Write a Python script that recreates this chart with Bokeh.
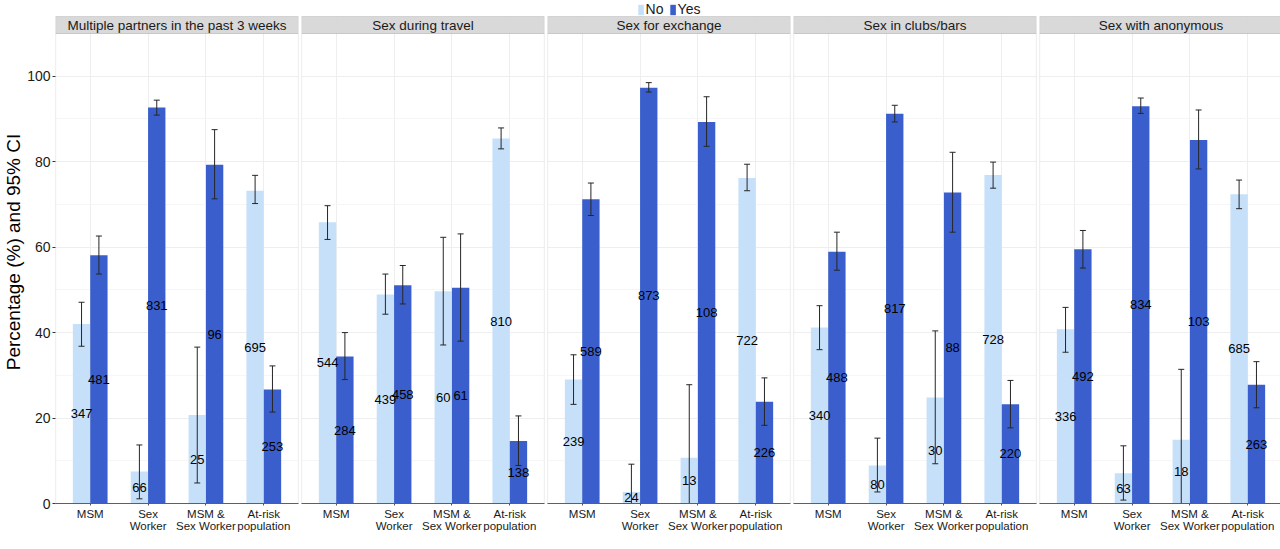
from bokeh.plotting import figure
from bokeh.models import (ColumnDataSource, FactorRange, Range1d, FixedTicker,
                          BoxAnnotation, Label, Legend, LegendItem)
from bokeh.layouts import row
from bokeh.transform import dodge
from bokeh.core.properties import value
from bokeh.embed import file_html
from bokeh.resources import INLINE

# ---------------- data ----------------
groups = ["MSM", "Sex\nWorker", "MSM &\nSex Worker", "At-risk\npopulation"]
panels = ["Multiple partners in the past 3 weeks", "Sex during travel",
          "Sex for exchange", "Sex in clubs/bars", "Sex with anonymous"]

no_pct = [
    [42.0, 7.5, 20.7, 73.2],
    [65.8, 48.9, 49.7, 85.4],
    [29.0, 2.7, 10.7, 76.2],
    [41.2, 8.9, 24.8, 76.9],
    [40.8, 7.1, 14.9, 72.4],
]
no_lo = [
    [36.8, 1.1, 4.8, 70.2],
    [61.8, 44.3, 37.1, 83.0],
    [23.2, 0.0, 0.0, 73.2],
    [36.0, 2.7, 9.3, 73.8],
    [35.4, 0.8, 0.0, 69.0],
]
no_hi = [
    [47.1, 13.7, 36.6, 76.8],
    [69.7, 53.7, 62.3, 87.9],
    [34.8, 9.2, 27.8, 79.4],
    [46.3, 15.3, 40.4, 79.9],
    [45.9, 13.5, 31.4, 75.7],
]
no_n = [
    ["347", "66", "25", "695"],
    ["544", "439", "60", "810"],
    ["239", "24", "13", "722"],
    ["340", "80", "30", "728"],
    ["336", "63", "18", "685"],
]
yes_pct = [
    [58.1, 92.7, 79.3, 26.7],
    [34.4, 51.1, 50.5, 14.6],
    [71.2, 97.3, 89.3, 23.8],
    [58.9, 91.2, 72.8, 23.2],
    [59.5, 93.0, 85.1, 27.8],
]
yes_lo = [
    [53.7, 90.9, 71.3, 21.4],
    [29.0, 46.7, 38.0, 8.9],
    [67.4, 96.3, 83.6, 18.3],
    [54.6, 89.3, 63.5, 17.7],
    [55.1, 91.3, 78.3, 22.4],
]
yes_hi = [
    [62.6, 94.4, 87.5, 32.2],
    [40.0, 55.7, 63.1, 20.5],
    [75.0, 98.5, 95.2, 29.4],
    [63.5, 93.2, 82.2, 28.8],
    [63.9, 94.9, 92.1, 33.2],
]
yes_n = [
    ["481", "831", "96", "253"],
    ["284", "458", "61", "138"],
    ["589", "873", "108", "226"],
    ["488", "817", "88", "220"],
    ["492", "834", "103", "263"],
]
y_ticks = [0, 20, 40, 60, 80, 100]
y_minor = [10, 30, 50, 70, 90]
legend_labels = ["No", "Yes"]

# ---------------- style ----------------
NO_C = "#C6E0FA"
YES_C = "#3A5FCD"
ERR_C = "#262626"
BORDER_C = "#999999"
STRIP_C = "#D9D9D9"
GRID_C = "#EEEEEE"
MINOR_C = "#F6F6F6"
FONT = "Liberation Sans"

FRAME_W = 243
FRAME_H = 503
DATA_TOP = 110.0
PX_PER_UNIT = (FRAME_H - 33) / DATA_TOP
STRIP_TOP = DATA_TOP + 17 / PX_PER_UNIT
Y_END = FRAME_H / PX_PER_UNIT
OFF = 0.15
BAR_W = 0.3

figs = []
for i, title in enumerate(panels):
    src = ColumnDataSource(dict(
        group=groups,
        no=no_pct[i], no_lo=no_lo[i], no_hi=no_hi[i], no_n=no_n[i],
        no_mid=[v / 2 for v in no_pct[i]],
        yes=yes_pct[i], yes_lo=yes_lo[i], yes_hi=yes_hi[i], yes_n=yes_n[i],
        yes_mid=[v / 2 for v in yes_pct[i]],
    ))
    xr = FactorRange(*groups, range_padding=0.05)
    p = figure(x_range=xr, y_range=Range1d(0, Y_END),
               frame_width=FRAME_W, frame_height=FRAME_H,
               output_backend="svg", toolbar_location=None,
               min_border=0)
    p.min_border_right = 3 if i < len(panels) - 1 else 0
    p.outline_line_color = None
    p.background_fill_color = "white"

    # grids
    p.ygrid.ticker = FixedTicker(ticks=y_ticks, minor_ticks=y_minor)
    p.ygrid.grid_line_color = GRID_C
    p.ygrid.minor_grid_line_color = MINOR_C
    p.ygrid.bounds = (0, DATA_TOP)
    p.xgrid.grid_line_color = GRID_C

    # bars
    r_no = p.vbar(x=dodge("group", -OFF, range=xr), top="no", bottom=0,
                  width=BAR_W, source=src, fill_color=NO_C, line_color=None)
    r_yes = p.vbar(x=dodge("group", OFF, range=xr), top="yes", bottom=0,
                   width=BAR_W, source=src, fill_color=YES_C, line_color=None)

    # count labels
    for mid, ncol, off in (("no_mid", "no_n", -OFF), ("yes_mid", "yes_n", OFF)):
        p.text(x=dodge("group", off, range=xr), y=mid, text=ncol, source=src,
               text_align="center", text_baseline="middle",
               text_font=value(FONT), text_font_size="13px", text_color="black")

    # error bars
    for lo, hi, off in (("no_lo", "no_hi", -OFF), ("yes_lo", "yes_hi", OFF)):
        p.segment(x0=dodge("group", off, range=xr), y0=lo,
                  x1=dodge("group", off, range=xr), y1=hi,
                  source=src, line_color=ERR_C, line_width=1)
        for end in (lo, hi):
            p.scatter(x=dodge("group", off, range=xr), y=end, source=src,
                      marker="dash", size=6, line_color=ERR_C, line_width=1)

    # panel border, strip, cover above strip
    p.add_layout(BoxAnnotation(bottom=0, top=DATA_TOP, fill_alpha=0,
                               line_color=BORDER_C, line_width=1.2))
    p.add_layout(BoxAnnotation(bottom=DATA_TOP, top=STRIP_TOP,
                               fill_color=STRIP_C, fill_alpha=1,
                               line_color=BORDER_C, line_width=1.2))
    p.add_layout(BoxAnnotation(bottom=STRIP_TOP + 0.15, fill_color="white",
                               fill_alpha=1, line_color=None))
    p.add_layout(Label(x=len(groups) / 2, y=(DATA_TOP + STRIP_TOP) / 2,
                       text=title, text_align="center", text_baseline="middle",
                       text_font=FONT, text_font_size="13.5px",
                       text_color="#1a1a1a"))

    # axes
    p.xaxis.major_label_text_font = FONT
    p.xaxis.major_label_text_font_size = "11.5px"
    p.xaxis.major_label_text_color = "#1a1a1a"
    p.xaxis.major_label_text_line_height = 1.0
    p.xaxis.axis_line_color = "#555555"
    p.xaxis.major_tick_line_color = "#555555"
    p.xaxis.major_tick_out = 2
    p.xaxis.major_tick_in = 0
    p.xaxis.major_label_standoff = 2
    p.xaxis.minor_tick_line_color = None

    if i == 0:
        p.yaxis.ticker = FixedTicker(ticks=y_ticks)
        p.yaxis.major_label_text_font = FONT
        p.yaxis.major_label_text_font_size = "14px"
        p.yaxis.major_label_text_color = "#1a1a1a"
        p.yaxis.axis_line_color = None
        p.yaxis.major_tick_line_color = "#333333"
        p.yaxis.major_tick_out = 3
        p.yaxis.major_tick_in = 0
        p.yaxis.minor_tick_line_color = None
        p.yaxis.major_label_standoff = 2
        p.yaxis.axis_label = "Percentage (%) and 95% CI"
        p.yaxis.axis_label_text_font = FONT
        p.yaxis.axis_label_text_font_size = "19px"
        p.yaxis.axis_label_text_font_style = "normal"
        p.yaxis.axis_label_text_color = "black"
        p.yaxis.axis_label_standoff = 0
    else:
        p.yaxis.visible = False

    if i == 2:
        leg = Legend(items=[LegendItem(label=legend_labels[0], renderers=[r_no]),
                            LegendItem(label=legend_labels[1], renderers=[r_yes])],
                     location="top_center", orientation="horizontal",
                     glyph_width=7, glyph_height=13, label_standoff=2,
                     spacing=3, padding=0, margin=1,
                     label_text_font=FONT, label_text_font_size="14px",
                     label_text_color="#1a1a1a", label_height=14,
                     border_line_color=None, background_fill_alpha=0)
        p.add_layout(leg)

    figs.append(p)

layout = row(*figs, spacing=0)
open("out.html", "w").write(file_html(layout, INLINE))
